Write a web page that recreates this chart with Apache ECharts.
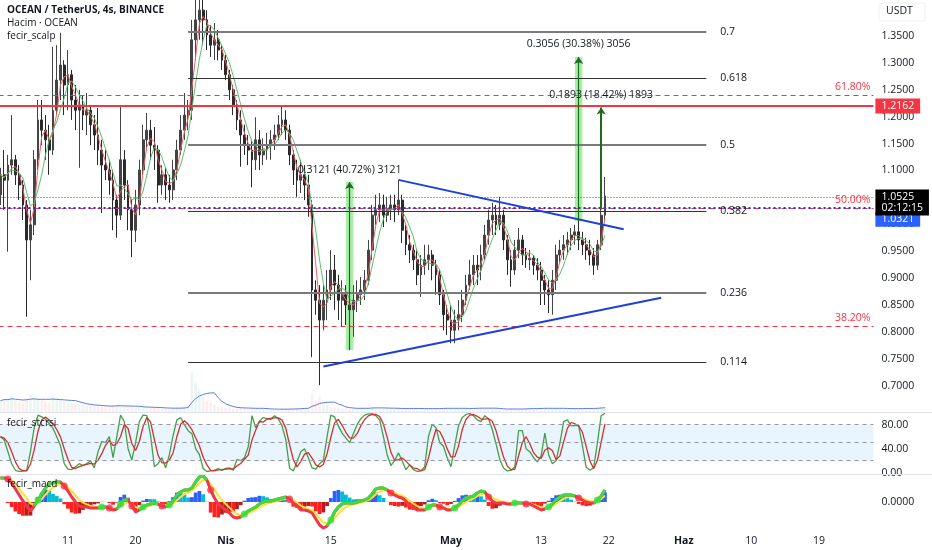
<!DOCTYPE html>
<html>
<head>
<meta charset="utf-8">
<script src="https://cdn.jsdelivr.net/npm/echarts/dist/echarts.min.js"></script>
<style>
  html, body { margin: 0; padding: 0; background: #fff; }
  #chart { width: 932px; height: 550px; }
</style>
</head>
<body>
<div id="chart"></div>
<script>
// 12h candles from 2 Mar: [open, close, low, high]
const candles = [
  [1.055,1.092,1.036,1.105],[1.092,1.082,1.027,1.138],[1.082,1.110,0.949,1.129],[1.110,1.120,1.092,1.203],
  [1.120,1.092,1.073,1.129],[1.092,1.073,1.045,1.110],[1.073,1.036,1.008,1.082],[1.036,0.971,0.828,1.045],
  [0.971,0.999,0.896,1.027],[0.999,1.120,0.980,1.138],[1.120,1.194,1.101,1.231],[1.194,1.175,1.147,1.231],
  [1.175,1.157,1.120,1.203],[1.157,1.138,1.092,1.185],[1.138,1.212,1.129,1.330],[1.212,1.268,1.203,1.333],
  [1.268,1.296,1.231,1.356],[1.296,1.259,1.203,1.305],[1.259,1.278,1.212,1.324],[1.278,1.231,1.194,1.287],
  [1.231,1.212,1.175,1.259],[1.212,1.222,1.105,1.250],[1.222,1.203,1.175,1.240],[1.203,1.212,1.166,1.244],
  [1.212,1.185,1.147,1.222],[1.185,1.166,1.138,1.203],[1.166,1.138,1.110,1.216],[1.138,1.110,1.021,1.157],
  [1.110,1.101,1.082,1.138],[1.101,1.082,1.055,1.120],[1.082,1.045,0.989,1.101],[1.045,1.017,0.975,1.055],
  [1.017,1.120,1.008,1.218],[1.120,1.073,1.045,1.138],[1.073,1.027,0.989,1.082],[1.027,0.989,0.939,1.045],
  [0.989,1.036,0.967,1.064],[1.036,1.101,1.017,1.120],[1.101,1.157,1.092,1.185],[1.157,1.175,1.138,1.207],
  [1.175,1.147,1.120,1.194],[1.147,1.138,1.101,1.181],[1.138,1.073,1.040,1.147],[1.073,1.092,1.055,1.110],
  [1.092,1.073,1.045,1.105],[1.073,1.064,1.040,1.092],[1.064,1.101,1.045,1.120],[1.101,1.138,1.082,1.157],
  [1.138,1.175,1.129,1.203],[1.175,1.203,1.157,1.244],[1.203,1.212,1.175,1.231],[1.212,1.343,1.194,1.380],
  [1.343,1.380,1.305,1.435],[1.380,1.398,1.343,1.445],[1.398,1.380,1.333,1.426],[1.380,1.352,1.324,1.398],
  [1.352,1.333,1.311,1.370],[1.333,1.343,1.305,1.374],[1.343,1.324,1.305,1.361],[1.324,1.305,1.287,1.333],
  [1.305,1.278,1.268,1.315],[1.278,1.250,1.231,1.287],[1.250,1.222,1.203,1.259],[1.222,1.194,1.175,1.231],
  [1.194,1.166,1.107,1.212],[1.166,1.147,1.129,1.185],[1.147,1.138,1.110,1.166],[1.138,1.120,1.069,1.157],
  [1.120,1.157,1.101,1.199],[1.157,1.129,1.101,1.175],[1.129,1.138,1.110,1.160],[1.138,1.147,1.120,1.170],
  [1.147,1.157,1.120,1.175],[1.157,1.166,1.138,1.185],[1.166,1.185,1.157,1.203],[1.185,1.194,1.166,1.218],
  [1.194,1.175,1.157,1.212],[1.175,1.129,1.110,1.185],[1.129,1.101,1.073,1.138],[1.101,1.082,1.051,1.120],
  [1.082,1.092,1.058,1.120],[1.092,1.073,1.045,1.110],[1.073,1.036,1.014,1.092],[1.036,0.878,0.753,1.045],
  [0.878,0.859,0.832,0.896],[0.859,0.822,0.701,0.887],[0.822,0.859,0.803,0.887],[0.859,0.878,0.822,0.915],
  [0.878,0.915,0.859,0.952],[0.915,0.887,0.841,0.943],[0.887,0.859,0.822,0.906],[0.859,0.869,0.809,0.896],
  [0.869,0.850,0.813,0.887],[0.850,0.841,0.803,0.878],[0.841,0.859,0.791,0.887],[0.859,0.869,0.837,0.896],
  [0.869,0.878,0.850,0.902],[0.878,0.896,0.859,0.915],[0.896,0.952,0.887,0.971],[0.952,1.017,0.934,1.036],
  [1.017,1.027,0.999,1.055],[1.027,1.036,1.004,1.058],[1.036,1.017,0.995,1.055],[1.017,1.027,1.004,1.051],
  [1.027,1.036,1.008,1.055],[1.036,1.027,1.004,1.055],[1.027,1.045,1.017,1.082],[1.045,0.989,0.965,1.055],
  [0.989,0.962,0.943,0.999],[0.962,0.952,0.928,0.980],[0.952,0.934,0.915,0.962],[0.934,0.906,0.887,0.952],
  [0.906,0.924,0.865,0.943],[0.924,0.934,0.906,0.962],[0.934,0.943,0.915,0.962],[0.943,0.924,0.896,0.952],
  [0.924,0.906,0.869,0.934],[0.906,0.869,0.850,0.915],[0.869,0.832,0.803,0.878],[0.832,0.822,0.794,0.850],
  [0.822,0.803,0.779,0.850],[0.803,0.822,0.779,0.841],[0.822,0.832,0.803,0.859],[0.832,0.859,0.818,0.878],
  [0.859,0.887,0.850,0.906],[0.887,0.906,0.878,0.934],[0.906,0.924,0.887,0.943],[0.924,0.915,0.887,0.943],
  [0.915,0.943,0.896,0.962],[0.943,0.980,0.934,0.999],[0.980,1.008,0.962,1.027],[1.008,1.017,0.980,1.040],
  [1.017,0.999,0.980,1.036],[0.999,1.017,0.989,1.051],[1.017,0.971,0.952,1.027],[0.971,0.934,0.906,0.980],
  [0.934,0.915,0.884,0.952],[0.915,0.952,0.906,0.971],[0.952,0.971,0.937,0.993],[0.971,0.943,0.924,0.980],
  [0.943,0.934,0.919,0.956],[0.934,0.937,0.915,0.952],[0.937,0.924,0.906,0.943],[0.924,0.915,0.896,0.937],
  [0.915,0.896,0.850,0.930],[0.896,0.878,0.850,0.906],[0.878,0.869,0.835,0.896],[0.869,0.896,0.832,0.915],
  [0.896,0.943,0.878,0.962],[0.943,0.952,0.930,0.971],[0.952,0.962,0.934,0.980],[0.962,0.971,0.943,0.986],
  [0.971,0.980,0.952,0.993],[0.980,0.986,0.962,0.999],[0.986,0.971,0.952,1.017],[0.971,0.962,0.943,0.986],
  [0.962,0.952,0.934,0.975],[0.952,0.943,0.924,0.971],[0.943,0.924,0.906,0.956],[0.924,0.962,0.915,0.971],
  [0.962,1.017,0.952,1.036],[1.017,1.0525,1.008,1.088]
];

const volumes = [
  12,14,13,16,12,11,10,14,18,15, 13,12,11,10,16,15,14,11,10,9,
  9,8,8,7,7,6,7,7,6,6, 7,8,7,6,6,6,5,6,5,5,
  5,5,5,4,4,4,4,5,5,6, 8,40,30,22,16,12,10,8,6,5,
  5,5,4,4,5,5,4,4,4,4, 4,3,3,3,3,4,4,4,4,4,
  4,5,5,18,12,16,9,7,6,5, 5,4,4,4,4,4,5,5,4,6,
  5,4,4,4,4,4,5,4,4,4, 4,4,4,4,4,4,4,4,5,5,
  4,4,4,4,4,4,5,5,5,4, 4,4,4,3,3,3,4,4,4,4,
  4,4,4,4,5,5,4,4,4,4, 4,4,4,4,4,4,5,4,4,5,
  6,6
];

const stochK = [
  60,55,35,15,4,2,3,4,35,75, 96,93,89,82,74,60,45,15,6,5,
  10,15,12,15,20,8,35,52,50,60, 25,60,96,85,40,21,50,85,96,95,
  62,10,15,25,8,30,62,88,92,80, 70,65,40,30,7,2,3,4,7,4,
  7,8,4,22,20,25,43,95,75,86, 92,90,89,95,90,78,55,8,3,18,
  35,40,25,8,6,15,20,60,96,93, 78,66,58,50,65,80,90,96,98,98,
  95,88,60,30,12,20,33,20,5,13, 5,2,3,10,60,81,75,50,44,25,
  10,45,78,92,97,99,95,88,85,95, 90,72,48,22,8,3,4,10,70,70,
  40,35,25,18,28,66,30,15,20,49, 85,88,78,79,78,45,9,4,8,50,
  95,99
];

const macdLine = [
  0.024,0.024,0.023,0.019,0.013,0.007,0.001,-0.004,-0.009,-0.004,
  0.002,0.008,0.014,0.018,0.019,0.020,0.020,0.016,0.011,0.005,
  0.000,-0.004,-0.005,-0.005,-0.006,-0.006,-0.006,-0.005,-0.005,-0.006,
  -0.008,-0.007,-0.002,0.002,0.002,-0.004,-0.010,-0.008,-0.005,-0.003,
  -0.002,-0.001,-0.002,-0.004,-0.005,-0.003,0.001,0.007,0.010,0.012,
  0.012,0.014,0.020,0.025,0.026,0.022,0.012,0.004,-0.002,-0.005,
  -0.008,-0.011,-0.015,-0.016,-0.015,-0.012,-0.009,-0.007,-0.005,-0.002,
  0.000,0.001,0.001,0.002,0.003,0.004,0.005,0.003,-0.001,-0.004,
  -0.008,-0.008,-0.009,-0.011,-0.017,-0.023,-0.026,-0.024,-0.018,-0.010,
  -0.005,-0.002,-0.001,-0.001,-0.001,0.000,0.001,0.002,0.004,0.008,
  0.013,0.014,0.014,0.012,0.009,0.007,0.005,0.004,0.001,-0.003,
  -0.006,-0.008,-0.008,-0.008,-0.005,-0.003,-0.003,-0.005,-0.006,-0.008,
  -0.008,-0.006,-0.003,0.001,0.004,0.005,0.006,0.009,0.011,0.010,
  0.005,0.001,-0.001,-0.001,-0.001,-0.002,-0.002,-0.001,-0.001,-0.001,
  -0.002,-0.002,-0.004,-0.006,-0.008,-0.007,-0.005,-0.002,0.002,0.005,
  0.007,0.007,0.007,0.006,0.004,0.002,0.000,-0.001,-0.001,0.002,
  0.006,0.012
];

const tickIdx = [18, 36, 60, 88, 120, 144, 162, 182, 200, 218];
const tickText = ['11', '20', 'Nis', '15', 'May', '13', '22', 'Haz', '10', '19'];
const monthTicks = ['Nis', 'May', 'Haz'];

const fibLabels = ['0.7', '0.618', '0.5', '0.382', '0.236', '0.114'];
const fibPrices = [1.357, 1.271, 1.148, 1.025, 0.872, 0.744];
const fibFrom = 50, fibTo = 188;

const pctLabels = ['61.80%', '50.00%', '38.20%'];
const pctPrices = [1.242, 1.027, 0.813];

const trendUpper = [[106, 1.0826], [166, 0.9907]];
const trendLower = [[86, 0.7356], [176, 0.8635]];

const measIdx = [93, 154, 160];
const measLow = [0.7664, 1.0055, 1.0277];
const measHigh = [1.0785, 1.3111, 1.2170];
const measText = ['0.3121 (40.72%) 3121', '0.3056 (30.38%) 3056', '0.1893 (18.42%) 1893'];

const alarmLevel = 1.2162;
const blueLevel = 1.0321;
const lastPrice = 1.0525;
const countdown = '02:12:15';

const SLOTS = 233;
const FONT = '"Open Sans", sans-serif';
const AXIS_FS = 10.5;

function sma(src, n) {
  return src.map((_, i) => {
    const s = src.slice(Math.max(0, i - n + 1), i + 1);
    return +(s.reduce((a, b) => a + b, 0) / s.length).toFixed(5);
  });
}

function ema(src, n) {
  const k = 2 / (n + 1);
  let prev = src[0];
  return src.map((v, i) => {
    prev = i === 0 ? v : v * k + prev * (1 - k);
    return +prev.toFixed(5);
  });
}

const cats = [];
const start = Date.UTC(2024, 2, 2);
for (let i = 0; i < SLOTS; i++) {
  cats.push(new Date(start + i * 12 * 3600e3).toISOString().slice(0, 13));
}

const closes = candles.map(c => c[1]);
const maFast = sma(closes, 3);
const maSlow = sma(closes, 5);
const volMa = sma(volumes, 7);
const stochD = sma(stochK, 3);
const signal = ema(macdLine, 4);
const hist = macdLine.map((v, i) => +((v - signal[i]) * 1.8).toFixed(5));

const volData = volumes.map((v, i) => ({
  value: v,
  itemStyle: { color: candles[i][1] >= candles[i][0] ? 'rgba(8,153,129,0.09)' : 'rgba(242,54,69,0.09)' }
}));

const histData = hist.map((v, i) => {
  const prev = i > 0 ? hist[i - 1] : 0;
  let color;
  if (v >= 0) color = v >= prev ? '#2962ff' : '#00bcd4';
  else color = v <= prev ? '#ff1f1f' : '#b71c1c';
  return { value: v, itemStyle: { color } };
});

// green where the macd line is above its signal, red underneath
const macdGreen = macdLine.map((v, i) => {
  const up = macdLine[i] >= signal[i];
  const nextUp = i + 1 < macdLine.length && macdLine[i + 1] >= signal[i + 1];
  return (up || nextUp) ? v : null;
});

const crossDots = [];
for (let i = 1; i < macdLine.length; i++) {
  const a = macdLine[i - 1] - signal[i - 1];
  const b = macdLine[i] - signal[i];
  if ((a < 0) !== (b < 0)) {
    crossDots.push({ value: [i, macdLine[i]], itemStyle: { color: b >= 0 ? '#3ddc3d' : '#f23645' } });
  }
}

const mainLines = [];
fibPrices.forEach((p, k) => {
  const grey = k % 2 === 0;
  mainLines.push([
    { coord: [fibFrom, p], lineStyle: { color: grey ? '#7a7a7a' : '#333', width: grey ? 2 : 1.2, type: 'solid' } },
    { coord: [fibTo, p], label: { show: true, position: 'end', distance: 14, formatter: fibLabels[k], color: '#131722', fontSize: AXIS_FS, fontFamily: FONT } }
  ]);
});
pctPrices.forEach((p, k) => {
  mainLines.push({
    yAxis: p,
    lineStyle: { color: '#f23645', width: 1, type: [5, 4] },
    label: { show: true, position: 'insideEndTop', formatter: pctLabels[k], color: '#f23645', fontSize: AXIS_FS, fontFamily: FONT, distance: 3 }
  });
});
mainLines.push({
  yAxis: alarmLevel,
  lineStyle: { color: '#f23645', width: 2, type: 'solid' },
  label: { show: true, position: 'end', distance: 2, formatter: alarmLevel.toFixed(4), color: '#fff', backgroundColor: '#f23645', padding: [2, 6], fontSize: AXIS_FS, fontFamily: FONT }
});
mainLines.push({
  yAxis: blueLevel,
  lineStyle: { color: '#2133d8', width: 2, type: [2, 3] },
  label: { show: true, position: 'end', distance: 2, offset: [0, 11], formatter: blueLevel.toFixed(4), color: '#fff', backgroundColor: '#2962ff', padding: [2, 6], fontSize: AXIS_FS, fontFamily: FONT }
});
mainLines.push({
  yAxis: lastPrice,
  lineStyle: { color: '#555', width: 1, type: [1, 2] },
  label: { show: true, position: 'end', distance: 2, offset: [0, 5], formatter: lastPrice.toFixed(4) + '\n' + countdown, color: '#fff', backgroundColor: '#000', padding: [2, 6], lineHeight: 11, fontSize: AXIS_FS, fontFamily: FONT }
});
[trendUpper, trendLower].forEach(t => {
  mainLines.push([
    { coord: t[0], lineStyle: { color: '#1f3fdb', width: 2, type: 'solid' } },
    { coord: t[1] }
  ]);
});
measIdx.forEach((x, k) => {
  mainLines.push([
    { coord: [x, measLow[k]], lineStyle: { color: '#1e6b1e', width: k === 2 ? 2 : 1.2, type: 'solid' } },
    { coord: [x, measHigh[k]], symbol: 'arrow', symbolSize: 7,
      label: { show: true, position: 'end', distance: 7, formatter: measText[k], color: '#131722', fontSize: AXIS_FS, fontFamily: FONT } }
  ]);
});

const measAreas = measIdx.slice(0, 2).map((x, k) => [
  { coord: [x - 1, measLow[k]] },
  { coord: [x + 1, measHigh[k]] }
]);

const L = -1.47, R = 58.6;
const gridBase = { left: L, right: R, outerBoundsMode: 'none', containLabel: false };

function catAxis(g, showLabels) {
  return {
    type: 'category', gridIndex: g, data: cats, boundaryGap: true,
    axisLine: { show: false }, axisTick: { show: false }, splitLine: { show: false },
    axisLabel: showLabels ? {
      show: true,
      interval: (i) => tickIdx.indexOf(i) >= 0,
      margin: 6,
      color: '#131722',
      fontSize: AXIS_FS,
      fontFamily: FONT,
      formatter: (v, i) => {
        const t = tickText[tickIdx.indexOf(i)] || '';
        return monthTicks.includes(t) ? '{b|' + t + '}' : t;
      },
      rich: { b: { fontWeight: 'bold', fontSize: AXIS_FS, color: '#131722', fontFamily: FONT } }
    } : { show: false }
  };
}

const chart = echarts.init(document.getElementById('chart'));

const option = {
  animation: false,
  backgroundColor: '#fff',
  textStyle: { fontFamily: FONT },
  grid: [
    Object.assign({ top: -17.8, height: 430.4 }, gridBase),
    Object.assign({ top: 300, height: 112.6 }, gridBase),
    Object.assign({ top: 412.7, height: 60 }, gridBase),
    Object.assign({ top: 474, height: 56 }, gridBase)
  ],
  xAxis: [catAxis(0, false), catAxis(1, false), catAxis(2, false), catAxis(3, true)],
  yAxis: [
    {
      type: 'value', gridIndex: 0, position: 'right', min: 0.65, max: 1.45, interval: 0.05,
      axisLine: { show: false }, axisTick: { show: false }, splitLine: { show: false },
      axisLabel: {
        margin: 8, color: '#131722', fontSize: AXIS_FS, fontFamily: FONT,
        formatter: v => (v < 0.69 || v > 1.36) ? '' : v.toFixed(4)
      }
    },
    { type: 'value', gridIndex: 1, min: 0, max: 112.6, show: false },
    {
      type: 'value', gridIndex: 2, position: 'right', min: 0, max: 100, interval: 40,
      axisLine: { show: false }, axisTick: { show: false }, splitLine: { show: false },
      axisLabel: {
        margin: 8, color: '#131722', fontSize: AXIS_FS, fontFamily: FONT,
        formatter: v => v > 90 ? '' : v.toFixed(2)
      }
    },
    {
      type: 'value', gridIndex: 3, position: 'right', min: -0.028, max: 0.028, interval: 0.028,
      axisLine: { show: false }, axisTick: { show: false }, splitLine: { show: false },
      axisLabel: {
        margin: 8, color: '#131722', fontSize: AXIS_FS, fontFamily: FONT,
        formatter: v => Math.abs(v) < 1e-9 ? '0.0000' : ''
      }
    }
  ],
  series: [
    {
      type: 'bar', name: 'Hacim', xAxisIndex: 1, yAxisIndex: 1, data: volData,
      barWidth: '70%', silent: true, z: 1
    },
    {
      type: 'line', name: 'Hacim MA', xAxisIndex: 1, yAxisIndex: 1, data: volMa,
      symbol: 'none', lineStyle: { color: '#5b7fde', width: 1 }, silent: true, z: 1
    },
    {
      type: 'candlestick', name: 'OCEAN', xAxisIndex: 0, yAxisIndex: 0, data: candles,
      barWidth: '62%',
      itemStyle: { color: '#444', color0: '#2a2a2a', borderColor: '#444', borderColor0: '#2a2a2a', borderWidth: 1 },
      markArea: { silent: true, itemStyle: { color: 'rgba(60,220,60,0.45)' }, data: measAreas },
      markLine: { silent: true, symbol: ['none', 'none'], label: { show: false }, data: mainLines },
      z: 3
    },
    {
      type: 'line', name: 'fast', xAxisIndex: 0, yAxisIndex: 0, data: maFast,
      symbol: 'none', lineStyle: { color: '#ef5f6a', width: 1 }, silent: true, z: 4
    },
    {
      type: 'line', name: 'slow', xAxisIndex: 0, yAxisIndex: 0, data: maSlow,
      symbol: 'none', lineStyle: { color: '#5cbf6a', width: 1 }, silent: true, z: 4
    },
    {
      type: 'line', name: 'K', xAxisIndex: 2, yAxisIndex: 2, data: stochK,
      symbol: 'none', lineStyle: { color: '#43a047', width: 1.3 }, silent: true,
      markArea: { silent: true, itemStyle: { color: 'rgba(33,150,243,0.1)' }, data: [[{ yAxis: 20 }, { yAxis: 80 }]] },
      markLine: {
        silent: true, symbol: ['none', 'none'], label: { show: false },
        lineStyle: { color: '#9598a1', width: 1, type: [4, 4] },
        data: [{ yAxis: 80 }, { yAxis: 50 }, { yAxis: 20 }]
      }
    },
    {
      type: 'line', name: 'D', xAxisIndex: 2, yAxisIndex: 2, data: stochD,
      symbol: 'none', lineStyle: { color: '#d32f2f', width: 1.3 }, silent: true
    },
    {
      type: 'bar', name: 'hist', xAxisIndex: 3, yAxisIndex: 3, data: histData,
      barWidth: '100%', silent: true, z: 2
    },
    {
      type: 'line', name: 'signal', xAxisIndex: 3, yAxisIndex: 3, data: signal,
      symbol: 'none', lineStyle: { color: '#ffe033', width: 2 }, silent: true, z: 3
    },
    {
      type: 'line', name: 'macd', xAxisIndex: 3, yAxisIndex: 3, data: macdLine,
      symbol: 'none', lineStyle: { color: '#f23645', width: 3 }, silent: true, z: 4
    },
    {
      type: 'line', name: 'macd up', xAxisIndex: 3, yAxisIndex: 3, data: macdGreen,
      symbol: 'none', connectNulls: false, lineStyle: { color: '#3ddc3d', width: 3 }, silent: true, z: 5
    },
    {
      type: 'scatter', name: 'cross', xAxisIndex: 3, yAxisIndex: 3, data: crossDots,
      symbolSize: 7, silent: true, z: 6
    }
  ],
  graphic: [
    { type: 'line', shape: { x1: 0, y1: 412.5, x2: 932, y2: 412.5 }, style: { stroke: '#e0e3eb', lineWidth: 1 }, z: 10 },
    { type: 'line', shape: { x1: 0, y1: 474.5, x2: 932, y2: 474.5 }, style: { stroke: '#e0e3eb', lineWidth: 1 }, z: 10 },
    { type: 'text', left: 7, top: 5, z: 10, style: { text: 'OCEAN / TetherUS, 4s, BINANCE', fill: '#131722', font: 'bold 10px ' + FONT } },
    { type: 'text', left: 7, top: 18, z: 10, style: { text: 'Hacim · OCEAN', fill: '#131722', font: '10px ' + FONT } },
    { type: 'text', left: 7, top: 31, z: 10, style: { text: 'fecir_scalp', fill: '#131722', font: '10px ' + FONT } },
    { type: 'text', left: 7, top: 418, z: 10, style: { text: 'fecir_stcrsi', fill: '#131722', font: '10px ' + FONT } },
    { type: 'text', left: 7, top: 479, z: 10, style: { text: 'fecir_macd', fill: '#131722', font: '10px ' + FONT } },
    { type: 'rect', shape: { x: 879, y: 3, width: 46, height: 18, r: 3 }, style: { fill: '#fff', stroke: '#f0f1f4' }, z: 10 },
    { type: 'text', left: 886, top: 6, z: 11, style: { text: 'USDT', fill: '#131722', font: '10.5px ' + FONT } }
  ]
};

chart.setOption(option);
</script>
</body>
</html>
